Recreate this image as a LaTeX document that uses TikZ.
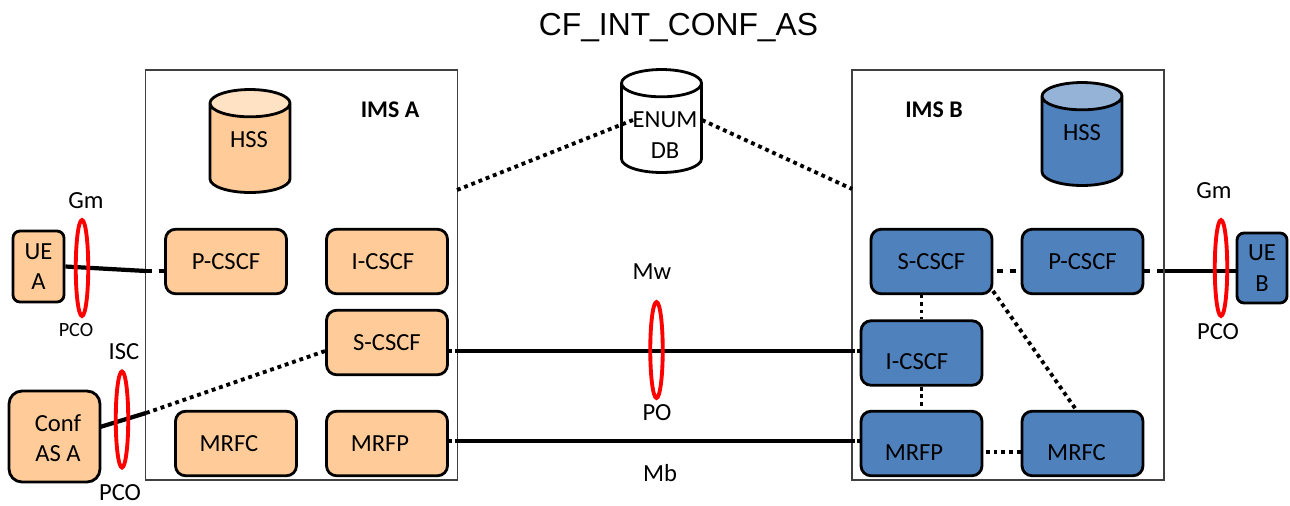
\documentclass[tikz,border=0pt]{standalone}
\usepackage{fontspec}
\setmainfont{Carlito}
\newfontfamily\titlefont{Liberation Sans}
\usetikzlibrary{shapes.geometric}
\definecolor{orangeA}{HTML}{FFCC99}
\definecolor{orangeT}{HTML}{FFE1C4}
\definecolor{blueB}{HTML}{4F81BD}
\definecolor{blueT}{HTML}{95B3D7}
\tikzset{txt/.style={font=\fontsize{14}{16}\selectfont,inner sep=0pt,align=center}}
\tikzset{small/.style={font=\fontsize{11.5}{13}\selectfont,inner sep=0pt}}
\tikzset{head/.style={txt,font=\bfseries\fontsize{13.6}{15}\selectfont}}
\tikzset{ims/.style={draw=black!75,line width=.7pt,minimum width=6.24cm,minimum height=8.2cm,inner sep=0pt}}
\tikzset{box/.style={txt,draw,line width=1.6pt,rounded corners=.2cm,minimum width=2.42cm,minimum height=1.29cm}}
\tikzset{oran/.style={box,fill=orangeA}}
\tikzset{blu/.style={box,fill=blueB}}
\tikzset{db/.style={txt,draw,line width=1.6pt,cylinder,shape border rotate=90,aspect=.72,anchor=shape center,minimum width=1.6cm,minimum height=2.06cm,cylinder uses custom fill}}
\tikzset{ring/.style={draw=red,line width=2.2pt,ellipse,inner sep=0pt,minimum width=.25cm,minimum height=1.92cm}}
\tikzset{sol/.style={line width=2.4pt}}
\tikzset{dots/.style={line width=2.2pt,dash pattern=on 2.2pt off 2.2pt}}
\tikzset{wdots/.style={line width=2.2pt,dash pattern=on 3.4pt off 3.8pt}}
\tikzset{stub/.style={line width=2.2pt,dash pattern=on 1.6pt off 6pt}}

\begin{document}
\begin{tikzpicture}[x=.02cm,y=-.02cm]
  \useasboundingbox (0,0) rectangle (1290,505);
  \node[font=\titlefont\fontsize{18.1}{20}\selectfont,inner sep=0pt] (title) at (678.5,28) {CF\_INT\_CONF\_AS};

  \node[ims] (imsA) at (301.5,275) {};
  \node[ims] (imsB) at (1008,275) {};
  \node[head] (imsAt) at (390,110) {IMS A};
  \node[head] (imsBt) at (934,110) {IMS B};

  \node[db,cylinder body fill=orangeA,cylinder end fill=orangeT] (hssA) at (250,141) {\phantom{HSS}};
  \node[db,cylinder body fill=blueB,cylinder end fill=blueT] (hssB) at (1082,134) {\phantom{HSS}};
  \node[db,cylinder body fill=white,cylinder end fill=white] (enum) at (661.5,121) {\phantom{HSS}};
  \node[txt] (hssAt) at (249,140) {HSS};
  \node[txt] (hssBt) at (1082,133) {HSS};

  \node[oran] (pA) at (226,261.5) {P-CSCF};
  \node[oran,label={[txt,xshift=-.08cm]center:I-CSCF}] (iA) at (387,261.5) {};
  \node[oran] (sA) at (387,342.5) {S-CSCF};
  \node[oran,label={[txt,xshift=-.14cm]center:MRFC}] (mrfcA) at (236,443.5) {};
  \node[oran,label={[txt,xshift=-.14cm]center:MRFP}] (mrfpA) at (387,443.5) {};
  \node[oran,minimum width=1.02cm,minimum height=1.42cm,rounded corners=.14cm] (ueA) at (38.5,266.5) {UE\\[.1em]A};
  \node[oran,minimum width=1.82cm,minimum height=1.82cm,rounded corners=.26cm,label={[txt,xshift=.07cm,yshift=-.03cm]center:Conf\\[.1em]AS A}] (confA) at (54.5,436.5) {};

  \node[blu] (sB) at (931.5,261.5) {S-CSCF};
  \node[blu] (pB) at (1082.5,261.5) {P-CSCF};
  \node[blu,label={[txt,xshift=-.09cm,yshift=-.18cm]center:I-CSCF}] (iB) at (921.5,353) {};
  \node[blu,label={[txt,xshift=-.15cm,yshift=-.19cm]center:MRFP}] (mrfpB) at (921.5,443.5) {};
  \node[blu,label={[txt,xshift=-.12cm,yshift=-.19cm]center:MRFC}] (mrfcB) at (1082.5,443.5) {};
  \node[blu,minimum width=1cm,minimum height=1.4cm,rounded corners=.14cm] (ueB) at (1262,268) {UE\\[.1em]B};

  % junctions on the frames
  \coordinate (jUA) at (146,271);
  \coordinate (jUB) at (1165,271);
  \coordinate (jCA) at (146,413);
  \coordinate (jC) at (100,427);
  \coordinate (jMwA) at (455,351);
  \coordinate (jMwB) at (855,351);
  \coordinate (jMbA) at (455,441);
  \coordinate (jMbB) at (855,441);
  \coordinate (jEA) at (457,190);
  \coordinate (jEB) at (852,189);
  \coordinate (jEL) at (633,120);
  \coordinate (jER) at (702,120);
  \coordinate (jSB) at (993,291);
  \coordinate (jMC) at (1077,411);
  \coordinate (jM) at (0,452);

  \draw[sol] (ueA.east) -- (jUA);
  \draw[wdots] (jUA) -- (pA.west |- jUA);
  \draw[sol] (jC) -- (jCA);
  \draw[dots] (jCA) -- (sA.west |- jMwA);
  \draw[stub] (sA.east |- jMwA) -- (jMwA);
  \draw[sol] (jMwA) -- (jMwB);
  \draw[stub] (iB.west |- jMwB) -- (jMwB);
  \draw[stub] (mrfpA.east |- jMbA) -- (jMbA);
  \draw[line width=2.8pt] (jMbA) -- (jMbB);
  \draw[stub] (mrfpB.west |- jMbB) -- (jMbB);
  \draw[dots] (jEA) -- (jEL);
  \draw[dots] (jER) -- (jEB);
  \draw[wdots,dash phase=5pt] (sB.east |- jUB) -- (pB.west |- jUB);
  \draw[wdots] (pB.east |- jUB) -- (jUB);
  \draw[sol] (jUB) -- (ueB.west |- jUB);
  \draw[dots,dash phase=5pt] (sB.south -| iB) -- (iB.north);
  \draw[dots,dash phase=4.4pt] (iB.south) -- (mrfpB.north);
  \draw[dots,dash phase=3pt] (mrfpB.east |- jM) -- (mrfcB.west |- jM);
  \draw[dots] (jSB) -- (jMC);

  \node[txt] (enumt) at (665,135) {ENUM\\[.1em]DB};

  \node[ring] (rGmA) at (82,268) {};
  \node[ring] (rIsc) at (122,419.5) {};
  \node[ring] (rMw) at (656.5,350) {};
  \node[ring] (rGmB) at (1221,268) {};

  \node[txt] (gmA) at (86,201) {Gm};
  \node[small] (pcoA) at (76,330) {PCO};
  \node[txt] (isc) at (124,352) {ISC};
  \node[txt] (pcoC) at (120,493) {PCO};
  \node[txt] (mw) at (652,272) {Mw};
  \node[txt] (po) at (657,413) {PO};
  \node[txt] (mb) at (660,473) {Mb};
  \node[txt] (gmB) at (1214,191) {Gm};
  \node[txt] (pcoB) at (1218,332) {PCO};
\end{tikzpicture}
\end{document}
